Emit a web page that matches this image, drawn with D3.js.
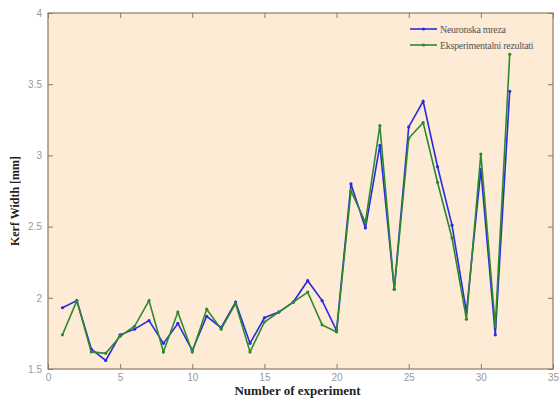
<!DOCTYPE html>
<html>
<head>
<meta charset="utf-8">
<script src="https://cdn.jsdelivr.net/npm/d3@7"></script>
<style>
  body { margin: 0; background: #fff; }
  svg { display: block; font-family: "Liberation Serif", "DejaVu Serif", serif; }
</style>
</head>
<body>
<svg id="chart" width="560" height="398"></svg>
<script>
// experiment numbers 1..32
const experiments = d3.range(1, 33);
const neuralNet = [1.93, 1.98, 1.64, 1.56, 1.74, 1.78, 1.84, 1.68, 1.82, 1.63,
  1.87, 1.79, 1.97, 1.68, 1.86, 1.90, 1.97, 2.12, 1.98, 1.77,
  2.80, 2.49, 3.07, 2.06, 3.20, 3.38, 2.92, 2.51, 1.90, 2.90, 1.74, 3.45];
const experimental = [1.74, 1.98, 1.62, 1.61, 1.73, 1.80, 1.98, 1.62, 1.90, 1.62,
  1.92, 1.78, 1.96, 1.62, 1.83, 1.90, 1.97, 2.04, 1.81, 1.76,
  2.75, 2.53, 3.21, 2.06, 3.12, 3.23, 2.81, 2.42, 1.85, 3.01, 1.80, 3.71];
const xTicks = [0, 5, 10, 15, 20, 25, 30, 35];
const yTicks = [1.5, 2, 2.5, 3, 3.5, 4];
const seriesNames = ['Neuronska mreza', 'Eksperimentalni rezultati'];

const svg = d3.select('#chart');
const plot = { left: 48, right: 553, top: 13, bottom: 369 };

const x = d3.scaleLinear().domain([0, 35]).range([plot.left, plot.right]);
const y = d3.scaleLinear().domain([1.5, 4]).range([plot.bottom, plot.top]);

// plot background
svg.append('rect')
  .attr('x', plot.left).attr('y', plot.top)
  .attr('width', plot.right - plot.left).attr('height', plot.bottom - plot.top)
  .attr('fill', '#fdebd6');

const axisColor = '#8a7a66';
const tickFmt = d => String(d);

function styleAxis(g, showText) {
  g.select('.domain').remove();
  g.selectAll('line').attr('stroke', axisColor);
  g.selectAll('text')
    .attr('fill', '#999')
    .style('font-size', '10px')
    .style('display', showText ? null : 'none');
}

svg.append('g')
  .attr('transform', `translate(0,${plot.bottom})`)
  .call(d3.axisBottom(x).tickValues(xTicks).tickFormat(tickFmt).tickSizeInner(-5).tickPadding(5))
  .call(g => styleAxis(g, true));
svg.append('g')
  .attr('transform', `translate(0,${plot.top})`)
  .call(d3.axisTop(x).tickValues(xTicks).tickSizeInner(-5))
  .call(g => styleAxis(g, false));
svg.append('g')
  .attr('transform', `translate(${plot.left},0)`)
  .call(d3.axisLeft(y).tickValues(yTicks).tickFormat(tickFmt).tickSizeInner(-5).tickPadding(6))
  .call(g => styleAxis(g, true));
svg.append('g')
  .attr('transform', `translate(${plot.right},0)`)
  .call(d3.axisRight(y).tickValues(yTicks).tickSizeInner(-5))
  .call(g => styleAxis(g, false));

// frame
svg.append('rect')
  .attr('x', plot.left).attr('y', plot.top)
  .attr('width', plot.right - plot.left).attr('height', plot.bottom - plot.top)
  .attr('fill', 'none')
  .attr('stroke', axisColor)
  .attr('stroke-width', 1.2);

const line = d3.line()
  .x((d, i) => x(experiments[i]))
  .y(d => y(d));

const series = [
  { name: seriesNames[0], values: neuralNet, color: '#2a2ae0' },
  { name: seriesNames[1], values: experimental, color: '#2c8a2c' }
];

series.forEach(s => {
  svg.append('path')
    .datum(s.values)
    .attr('d', line)
    .attr('fill', 'none')
    .attr('stroke', s.color)
    .attr('stroke-width', 1.6);
  svg.append('g')
    .selectAll('circle')
    .data(s.values)
    .enter()
    .append('circle')
    .attr('cx', (d, i) => x(experiments[i]))
    .attr('cy', d => y(d))
    .attr('r', 1.6)
    .attr('fill', s.color);
});

// legend
const legend = svg.append('g').attr('transform', 'translate(410,29)');
series.forEach((s, i) => {
  const g = legend.append('g').attr('transform', `translate(0,${i * 16})`);
  g.append('line')
    .attr('x1', 0).attr('x2', 27)
    .attr('stroke', s.color).attr('stroke-width', 1.6);
  g.append('circle').attr('cx', 13.5).attr('r', 1.6).attr('fill', s.color);
  g.append('text')
    .attr('x', 30).attr('y', 3.5)
    .attr('fill', '#555')
    .style('font-size', '10px')
    .style('letter-spacing', '-0.3px')
    .text(s.name);
});

// axis titles
svg.append('text')
  .attr('x', (plot.left + plot.right) / 2 - 3)
  .attr('y', 395)
  .attr('text-anchor', 'middle')
  .style('font-size', '13px')
  .style('font-weight', 'bold')
  .attr('fill', '#222')
  .text('Number of experiment');
svg.append('text')
  .attr('transform', `translate(19,${(plot.top + plot.bottom) / 2 + 10}) rotate(-90)`)
  .attr('text-anchor', 'middle')
  .style('font-size', '12px')
  .style('font-weight', 'bold')
  .attr('fill', '#222')
  .text('Kerf Width [mm]');
</script>
</body>
</html>
